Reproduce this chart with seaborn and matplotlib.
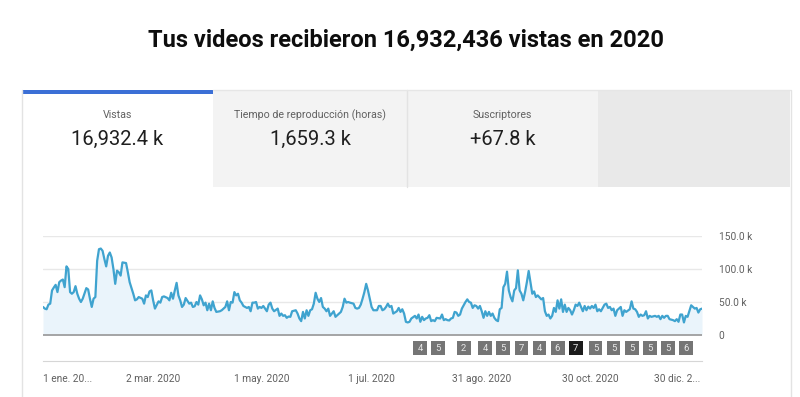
import matplotlib
matplotlib.use("Agg")
import matplotlib.pyplot as plt
from matplotlib.patches import Rectangle
from matplotlib.lines import Line2D
import seaborn as sns
import pandas as pd

# daily views (thousands); day = day of year (0 = 1 Jan 2020)
day = [0, 1, 2, 3, 4, 5, 6, 7, 8, 9, 10, 11, 12, 13, 14, 15, 16, 17, 18, 19,
       20, 21, 22, 24, 25, 26, 27, 28, 29, 30, 31, 32, 33, 34, 35, 36, 37, 38, 39, 40,
       41, 42, 43, 44, 46, 47, 48, 50, 51, 52, 53, 55, 56, 57, 58, 59, 60, 61, 62, 64,
       65, 66, 67, 69, 70, 71, 72, 73, 74, 75, 76, 77, 78, 79, 81, 82, 83, 84, 85, 86,
       87, 88, 89, 90, 91, 92, 93, 94, 95, 96, 98, 99, 101, 102, 103, 104, 105, 106, 107, 108,
       109, 110, 111, 113, 114, 115, 116, 117, 118, 119, 120, 121, 122, 123, 124, 125, 126, 127, 128, 130,
       131, 132, 133, 134, 135, 136, 137, 138, 140, 141, 142, 143, 144, 145, 146, 147, 148, 149, 150, 151,
       152, 153, 154, 155, 156, 157, 158, 159, 161, 162, 163, 164, 165, 166, 167, 168, 169, 170, 172, 173,
       174, 175, 176, 177, 178, 179, 180, 181, 182, 183, 185, 186, 187, 188, 189, 190, 191, 192, 193, 194,
       196, 197, 198, 199, 200, 201, 202, 203, 204, 206, 207, 208, 209, 210, 211, 212, 213, 214, 215, 216,
       217, 218, 220, 221, 222, 223, 224, 225, 226, 227, 228, 229, 230, 231, 232, 234, 235, 236, 237, 238,
       239, 240, 241, 242, 243, 244, 245, 246, 247, 248, 249, 250, 251, 252, 253, 254, 255, 256, 257, 258,
       259, 260, 261, 262, 263, 264, 265, 266, 267, 268, 269, 270, 271, 272, 273, 274, 276, 277, 278, 279,
       280, 281, 282, 283, 284, 285, 286, 287, 288, 289, 290, 291, 292, 293, 294, 295, 296, 297, 299, 300,
       301, 302, 303, 304, 305, 306, 307, 308, 309, 310, 311, 312, 313, 314, 315, 316, 317, 318, 319, 320,
       321, 322, 323, 325, 326, 327, 328, 329, 330, 331, 332, 333, 334, 335, 336, 337, 339, 340, 341, 342,
       343, 344, 345, 346, 347, 349, 350, 351, 352, 353, 354, 355, 356, 357, 359, 360, 361, 362, 363, 364,
       365]
views_k = [42.5, 40, 39, 46, 47.5, 67.5, 72, 76, 65, 80, 82.5, 84, 72.5, 104, 100, 65, 62.5, 65, 74, 62.5,
           55, 50, 55, 71, 69, 55, 42.5, 55, 57.5, 112.5, 130, 131, 127.5, 115, 104, 120, 125, 117.5, 100, 77.5,
           97.5, 95, 90, 110, 109, 95, 80, 62.5, 52.5, 54, 57.5, 55, 47.5, 60, 57.5, 66, 67.5, 52.5, 40, 51,
           49, 57.5, 58.5, 56, 52.5, 64, 55, 67.5, 79, 60, 52.5, 42.5, 46, 56, 47.5, 49, 42.5, 43.5, 50, 46,
           60, 54, 45, 49, 37.5, 47.5, 37.5, 51, 41, 35, 36, 37.5, 42.5, 51, 37.5, 50, 49, 65, 60, 62.5,
           52.5, 49, 44, 41, 42.5, 36, 49, 49, 50, 40, 42.5, 41, 44, 40, 36, 46, 49, 40, 36, 40,
           29, 32.5, 29, 30, 26, 28, 27.5, 36, 37.5, 32.5, 25, 21, 35, 25, 37.5, 29, 37.5, 39, 47.5, 64,
           55, 50, 56, 42.5, 40, 36, 40, 29, 36, 27.5, 30, 32.5, 35, 42.5, 55, 49, 50, 49, 47.5, 41,
           40, 41, 46, 55, 65, 77.5, 67.5, 55, 42.5, 37.5, 37.5, 44, 44, 37.5, 39, 42.5, 47.5, 42.5, 44, 32.5,
           36, 41, 35, 39, 32.5, 20, 19, 20, 25, 29, 25, 31, 20, 27.5, 22.5, 25, 26, 30, 21, 22.5,
           21, 26, 25, 31, 22.5, 24, 22.5, 22, 25, 26, 35, 34, 29, 31, 40, 50, 54, 50, 49, 41,
           45, 44, 40, 44, 36, 26, 36, 29, 35, 29, 32.5, 26, 22.5, 21, 39, 41, 72.5, 77.5, 96, 67.5,
           57.5, 51, 67.5, 71, 98, 67.5, 62.5, 52.5, 65, 80, 97, 80, 62.5, 66, 57.5, 60, 54, 56, 36, 29,
           31, 25, 29, 41, 35, 52.5, 40, 54, 35, 46, 35, 41, 37.5, 31, 37.5, 46, 44, 49, 36, 44,
           37.5, 43, 40, 44, 41, 46, 36, 39, 36, 41, 46, 47.5, 41, 42.5, 37.5, 40, 29, 37.5, 40, 42.5,
           29, 37.5, 35, 39, 51, 40, 39, 35, 27.5, 31, 29, 30, 36, 25, 29, 27.5, 29, 27.5, 29, 24,
           29, 26, 29, 29, 24, 22.5, 21, 24, 20, 31, 31, 19, 29, 27.5, 45, 42.5, 40, 41, 34, 39,
           40]

# weekly upload badges
badge_day = [209, 219, 233, 245, 255, 265, 275, 285, 295, 306, 316, 326, 336, 346, 356]
badge_num = [4, 5, 2, 4, 5, 7, 4, 6, 7, 5, 5, 5, 5, 5, 6]
badge_sel = 8  # highlighted badge

tick_day = [0, 61, 121, 182, 243, 303, 364]
tick_labels = ["1 ene. 20...", "2 mar. 2020", "1 may. 2020", "1 jul. 2020",
               "31 ago. 2020", "30 oct. 2020", "30 dic. 2..."]
y_ticks = [0, 50, 100, 150]
y_labels = ["0", "50.0 k", "100.0 k", "150.0 k"]

tabs = ["Vistas", "Tiempo de reproducción (horas)", "Suscriptores"]
tab_values = ["16,932.4 k", "1,659.3 k", "+67.8 k"]
title = "Tus videos recibieron 16,932,436 vistas en 2020"

start = pd.Timestamp("2020-01-01")
df = pd.DataFrame({"fecha": start + pd.to_timedelta(day, unit="D"), "vistas": views_k})

sns.set_style("white")
plt.rcParams["font.family"] = ["Roboto", "DejaVu Sans"]

W, H = 800, 397
fig = plt.figure(figsize=(8, 3.97), dpi=100)


def fx(x):
    return x / W


def fy(y):
    return 1 - y / H


def box(x0, y0, x1, y1, color):
    fig.add_artist(Rectangle((fx(x0), fy(y1)), fx(x1) - fx(x0), fy(y0) - fy(y1),
                             transform=fig.transFigure, color=color, lw=0, zorder=0))


def vline(x, y0, y1, color="#e3e3e3"):
    fig.add_artist(Line2D([fx(x), fx(x)], [fy(y0), fy(y1)], transform=fig.transFigure,
                          color=color, lw=1, zorder=1))


# card and tabs
box(22, 90, 213, 187, "white")
box(213, 90, 598, 187, "#f3f3f3")
box(598, 90, 790, 187, "#e9e9e9")
box(22, 90, 213, 93.5, "#3b6fd6")
vline(407, 90, 187)
vline(22, 90, 397)
vline(791, 90, 397)
fig.add_artist(Line2D([fx(213), fx(790)], [fy(90), fy(90)], transform=fig.transFigure,
                      color="#e6e6e6", lw=1, zorder=1))

fig.text(fx(406), fy(40), title, ha="center", va="center", fontsize=17,
         fontweight="bold", color="#0d0d0d")
for cx, lab, val in zip([117.5, 310, 502.5], tabs, tab_values):
    fig.text(fx(cx), fy(115), lab, ha="center", va="center", fontsize=7.7, color="#606060")
    fig.text(fx(cx), fy(139), val, ha="center", va="center", fontsize=14.5, color="#1f1f1f")

# chart
ax = fig.add_axes([fx(43), fy(361), fx(702) - fx(43), fy(236) - fy(361)])
ax.fill_between(df["fecha"], 0, df["vistas"], color="#eaf4fb", lw=0, zorder=1)
sns.lineplot(data=df, x="fecha", y="vistas", ax=ax, color="#3fa3cf", lw=1.6, zorder=3)
ax.axhline(0, color="#9e9e9e", lw=1.3, zorder=2)
for v in y_ticks[1:]:
    ax.axhline(v, color="#e8e8e8", lw=1, zorder=0)

ax.set_xlim(start, start + pd.Timedelta(days=365))
ax.set_ylim(-39.4, 150)
ax.set_xlabel("")
ax.set_ylabel("")

ax.yaxis.tick_right()
ax.set_yticks(y_ticks)
ax.set_yticklabels(y_labels)
ax.tick_params(axis="y", length=0, pad=12, labelsize=7.3, labelcolor="#606060")

xt = start + pd.to_timedelta(tick_day, unit="D")
ax.set_xticks(xt)
ax.set_xticklabels(tick_labels)
ax.tick_params(axis="x", length=5, width=0.8, color="#d0d0d0", pad=4,
               labelsize=7.3, labelcolor="#606060")
lbls = ax.get_xticklabels()
lbls[0].set_ha("left")
lbls[-1].set_ha("right")

for s in ["top", "left", "right"]:
    ax.spines[s].set_visible(False)
ax.spines["bottom"].set_color("#d6d6d6")
ax.spines["bottom"].set_linewidth(0.8)

# badges
bx = start + pd.to_timedelta(badge_day, unit="D")
by = [-20] * len(badge_day)
cols = ["#1b1b1b" if i == badge_sel else "#757575" for i in range(len(badge_day))]
ax.scatter(bx, by, marker="s", s=100, c=cols, linewidths=0, zorder=4, clip_on=False)
for x, n in zip(bx, badge_num):
    ax.text(x, -20, str(n), ha="center", va="center", fontsize=6.8, color="#e8e8e8", zorder=5)

fig.savefig("out.png", dpi=100)
